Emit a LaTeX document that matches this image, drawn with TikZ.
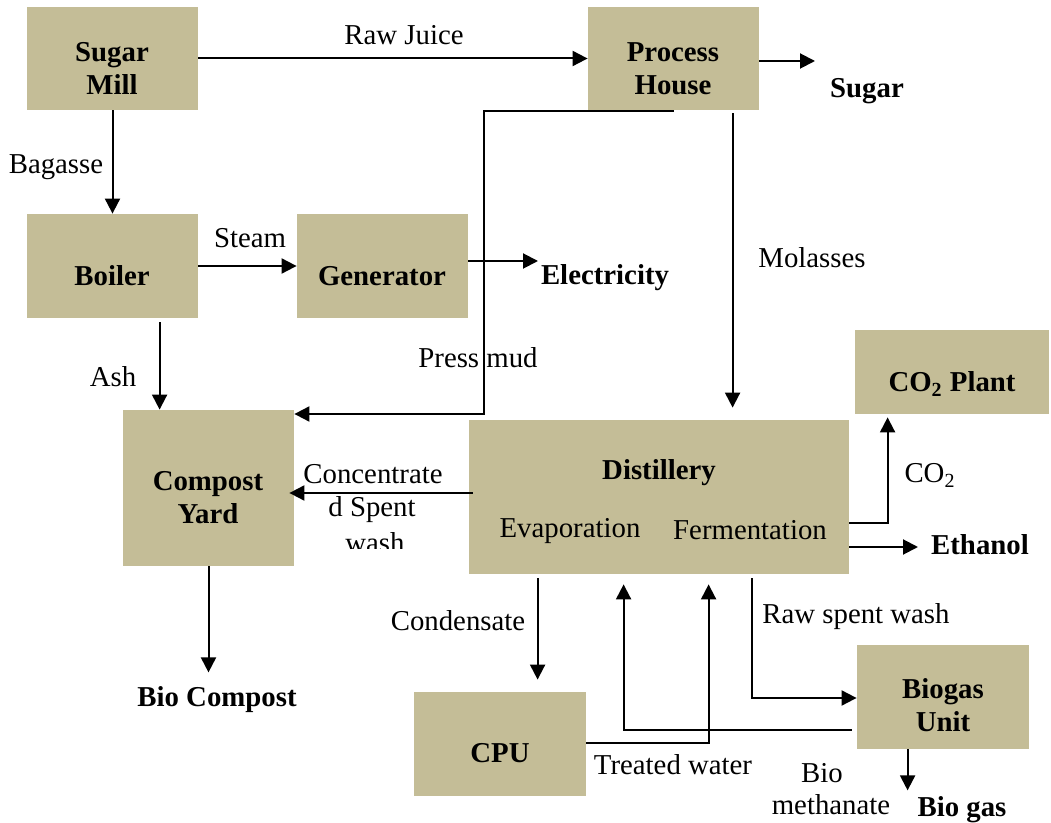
\documentclass[tikz,border=0pt]{standalone}
\usepackage{fontspec}
\setmainfont{Liberation Serif}
\usetikzlibrary{arrows.meta,calc}
\definecolor{boxtan}{HTML}{C4BD97}
\begin{document}
\begin{tikzpicture}[x=0.5pt,y=-0.5pt,
  box/.style={fill=boxtan, draw=none, inner sep=0pt},
  txt/.style={anchor=base, inner sep=0pt, font=\fontsize{14.4}{17}\selectfont},
  btxt/.style={anchor=base, inner sep=0pt, font=\fontsize{14.4}{17}\selectfont\bfseries},
  arr/.style={-{Triangle[length=7.5pt,width=7.5pt]}, line width=1pt}]
\useasboundingbox (0,0) rectangle (1051,823);

% boxes
\node[box, minimum width=85.5pt, minimum height=51.5pt] (sm) at (112.5,58.5) {};
\node[box, minimum width=85.5pt, minimum height=52pt] (boil) at (112.5,266) {};
\node[box, minimum width=85.5pt, minimum height=52pt] (gen) at (382.5,266) {};
\node[box, minimum width=85.5pt, minimum height=51.5pt] (ph) at (673.5,58.5) {};
\node[box, minimum width=85.5pt, minimum height=78pt] (comp) at (208.5,488) {};
\node[box, minimum width=190pt, minimum height=77pt] (dist) at (659,497) {};
\node[box, minimum width=97pt, minimum height=42pt] (co2) at (952,372) {};
\node[box, minimum width=86pt, minimum height=52pt] (cpu) at (500,744) {};
\node[box, minimum width=86pt, minimum height=52pt] (bio) at (943,697) {};

% box texts
\node[btxt] (tsm1) at (112,62) {Sugar};
\node[btxt] (tsm2) at (112,95) {Mill};
\node[btxt] (tph1) at (673,62) {Process};
\node[btxt] (tph2) at (673,95) {House};
\node[btxt] (tboil) at (112,286) {Boiler};
\node[btxt] (tgen) at (382,286) {Generator};
\node[btxt] (tcomp1) at (208,491) {Compost};
\node[btxt] (tcomp2) at (208,524) {Yard};
\node[btxt] (tdist) at (659,480) {Distillery};
\node[btxt] (tco2) at (952,392) {CO\textsubscript{2} Plant};
\node[btxt] (tcpu) at (500,763) {CPU};
\node[btxt] (tbio1) at (943,699) {Biogas};
\node[btxt] (tbio2) at (943,732) {Unit};
\node[txt] (tevap) at (570,538) {Evaporation};
\node[txt] (tferm) at (750,540) {Fermentation};

% outputs
\node[btxt] (elec) at (605,285) {Electricity};
\node[btxt] (sugar) at (867,98) {Sugar};
\node[btxt] (bcomp) at (217,707) {Bio Compost};
\node[btxt] (eth) at (980,555) {Ethanol};
\node[btxt] (bgas) at (962,817) {Bio gas};

% labels
\node[txt] (lrj) at (404,45) {Raw Juice};
\node[txt] (lbag) at (56,174) {Bagasse};
\node[txt] (lst) at (250,248) {Steam};
\node[txt] (lash) at (113,387) {Ash};
\node[txt] (lpm) at (478,368) {Press mud};
\node[txt] (lmol) at (812,268) {Molasses};
\begin{scope}
\clip (290,440) rectangle (470,549);
\node[txt] (lcs1) at (373,484) {Concentrate};
\node[txt] (lcs2) at (372,517) {d Spent};
\node[txt] (lcs3) at (375,553) {wash};
\end{scope}
\node[txt] (lco2) at (930,483) {CO\textsubscript{2}};
\node[txt] (lcond) at (458,631) {Condensate};
\node[txt] (lrsw) at (856,624) {Raw spent wash};
\node[txt] (ltw) at (673,775) {Treated water};
\node[txt] (lbm1) at (822,783) {Bio};
\node[txt] (lbm2) at (831,815) {methanate};

% connectors
\draw[arr] (sm.east) -- (ph.west);
\draw[arr] (sm.south) -- (boil.north);
\draw[arr] (boil.east) -- (gen.west);
\coordinate (elecA) at (538,261);
\draw[arr] (gen.east |- elecA) -- (elecA);
\coordinate (sugA) at (815,61);
\draw[arr] (ph.east |- sugA) -- (sugA);
\draw[arr] ($(boil.south west)+(133,4)$) -- ($(comp.north west)+(37,0)$);
\coordinate (pm) at (484,414);
\draw[arr] ($(ph.south)+(0,1)$) -| (pm) -- (comp.east |- pm);
\draw[arr] ($(ph.south west)+(145,3)$) -- ($(dist.north west)+(264,-12)$);
\draw[arr] ($(dist.west)+(4,-4)$) -- ($(comp.east)+(-5,5)$);
\draw[arr] ($(dist.east)+(0,26)$) -| ($(co2.south west)+(33,3)$);
\coordinate (ethA) at (918,547);
\draw[arr] (dist.east |- ethA) -- (ethA);
\draw[arr] ($(dist.south west)+(69,4)$) -- ($(cpu.north west)+(124,-12)$);
\draw[arr] ($(cpu.east)+(0,-1)$) -| ($(dist.south west)+(240,10)$);
\draw[arr] ($(bio.west)+(-5,33)$) -| ($(dist.south west)+(155,10)$);
\draw[arr] ($(dist.south west)+(283,4)$) |- ($(bio.west)+(0,1)$);
\draw[arr] ($(bio.south west)+(51,0)$) -- ($(bio.south west)+(51,41)$);
\draw[arr] (comp.south) -- ($(comp.south)+(0,106)$);
\end{tikzpicture}
\end{document}
